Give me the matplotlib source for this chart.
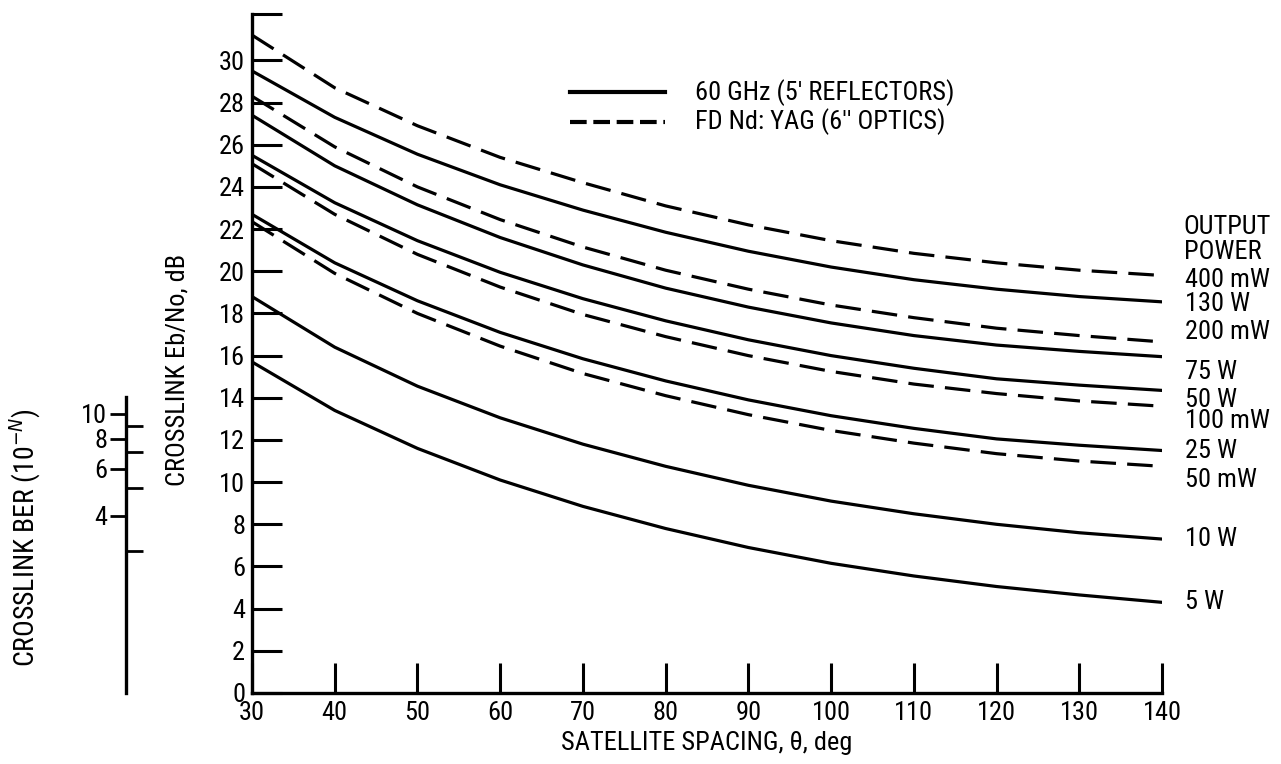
import matplotlib
matplotlib.use('Agg')
import matplotlib.pyplot as plt

# satellite spacing, deg
theta = [30, 40, 50, 60, 70, 80, 90, 100, 110, 120, 130, 140]

# crosslink Eb/No (dB)
# 60 GHz (solid)
w130 = [29.5, 27.3, 25.55, 24.1, 22.9, 21.85, 20.95, 20.2, 19.6, 19.15, 18.8, 18.55]
w75 = [27.4, 25.0, 23.15, 21.6, 20.3, 19.2, 18.3, 17.55, 16.95, 16.5, 16.2, 15.95]
w50 = [25.5, 23.25, 21.45, 19.95, 18.7, 17.65, 16.75, 16.0, 15.4, 14.9, 14.6, 14.35]
w25 = [22.7, 20.4, 18.6, 17.1, 15.85, 14.8, 13.9, 13.15, 12.55, 12.05, 11.75, 11.5]
w10 = [18.8, 16.4, 14.55, 13.05, 11.8, 10.75, 9.85, 9.1, 8.5, 8.0, 7.6, 7.3]
w5 = [15.7, 13.4, 11.6, 10.1, 8.85, 7.8, 6.9, 6.15, 5.55, 5.05, 4.65, 4.3]
# FD Nd:YAG (dashed)
mw400 = [31.2, 28.7, 26.9, 25.4, 24.2, 23.1, 22.2, 21.45, 20.85, 20.4, 20.05, 19.8]
mw200 = [28.3, 25.9, 24.0, 22.45, 21.15, 20.05, 19.15, 18.4, 17.8, 17.3, 16.95, 16.65]
mw100 = [25.1, 22.7, 20.8, 19.25, 17.95, 16.9, 16.0, 15.25, 14.65, 14.2, 13.85, 13.6]
mw50 = [22.35, 19.9, 18.0, 16.45, 15.15, 14.1, 13.2, 12.45, 11.85, 11.35, 11.0, 10.75]

solid_curves = [w130, w75, w50, w25, w10, w5]
dashed_curves = [mw400, mw200, mw100, mw50]

# output power labels at the right end, top to bottom
power_labels = ['400 mW', '130 W', '200 mW', '75 W', '50 W', '100 mW',
                '25 W', '50 mW', '10 W', '5 W']
power_curves = [mw400, w130, mw200, w75, w50, mw100, w25, mw50, w10, w5]
label_shift = [-0.2, -0.1, 0.45, -0.75, -0.45, -0.7, 0.0, -0.65, 0.0, 0.0]

# BER scale (10^-N) against Eb/No
ber_labels = ['10', '8', '6', '4']
ber_major = [13.24, 12.05, 10.63, 8.4]
ber_minor = [12.67, 11.44, 9.73, 6.74]

plt.rcParams['font.family'] = ['Roboto Condensed', 'DejaVu Sans Condensed',
                               'Liberation Sans Narrow', 'Roboto', 'DejaVu Sans']
plt.rcParams['font.stretch'] = 'condensed'
fs = 19

W, H = 1281, 764
fig = plt.figure(figsize=(W / 100, H / 100), dpi=100)
rect = [252 / W, 1 - 693 / H, 910 / W, 679 / H]
ax = fig.add_axes(rect)
ax.set_xlim(30, 140)
ax.set_ylim(0, 32.2)

lw = 2.3
for c in solid_curves:
    ax.plot(theta, c, color='black', lw=lw, solid_capstyle='round')
for c in dashed_curves:
    ax.plot(theta, c, color='black', lw=lw, dashes=(8, 3.5))

for sp in ['top', 'right']:
    ax.spines[sp].set_visible(False)
for sp in ['left', 'bottom']:
    ax.spines[sp].set_linewidth(2.4)

ax.set_xticks(theta)
ax.set_yticks(list(range(0, 31, 2)) + [32.2])
ax.set_yticklabels([str(v) for v in range(0, 31, 2)] + [''])
ax.tick_params(axis='both', direction='in', length=21.5, width=2.2,
               labelsize=fs)
ax.tick_params(axis='y', pad=5)
ax.tick_params(axis='x', pad=6)

# legend drawn by hand
ax.plot([0.349, 0.454], [0.885, 0.885], transform=ax.transAxes,
        color='black', lw=3)
ax.plot([0.349, 0.454], [0.841, 0.841], transform=ax.transAxes,
        color='black', lw=3, dashes=(4, 1.6))
ax.text(0.487, 0.885, "60 GHz (5' REFLECTORS)", transform=ax.transAxes,
        fontsize=fs, va='center')
ax.text(0.487, 0.841, "FD Nd: YAG (6'' OPTICS)", transform=ax.transAxes,
        fontsize=fs, va='center')

# right hand labels
ax.text(142.6, 22.1, 'OUTPUT', fontsize=fs, va='center', clip_on=False)
ax.text(142.6, 20.9, 'POWER', fontsize=fs, va='center', clip_on=False)
for lab, c, s in zip(power_labels, power_curves, label_shift):
    ax.text(142.8, c[-1] + s, lab, fontsize=fs, va='center', clip_on=False)

ax.set_xlabel('SATELLITE SPACING, θ, deg', fontsize=fs, labelpad=4)
fig.text(178 / W, 1 - 370 / H, 'CROSSLINK Eb/No, dB', rotation=90,
         ha='center', va='center', fontsize=fs)

# BER scale on the far left
ax2 = fig.add_axes([126 / W, rect[1], 0.001, rect[3]])
ax2.set_ylim(0, 32.2)
ax2.patch.set_visible(False)
for sp in ['top', 'right', 'bottom']:
    ax2.spines[sp].set_visible(False)
ax2.spines['left'].set_bounds(0, 14.05)
ax2.spines['left'].set_linewidth(2.4)
ax2.set_xticks([])
ax2.set_yticks(ber_major)
ax2.set_yticklabels(ber_labels)
ax2.set_yticks(ber_minor, minor=True)
ax2.tick_params(axis='y', which='major', direction='out', length=11.5,
                width=2, labelsize=fs, pad=2)
ax2.tick_params(axis='y', which='minor', direction='in', length=12, width=2)
fig.text(25 / W, 1 - 538 / H, 'CROSSLINK BER (10$^{-N}$)', rotation=90,
         ha='center', va='center', fontsize=20)

fig.savefig('out.png', dpi=100)
